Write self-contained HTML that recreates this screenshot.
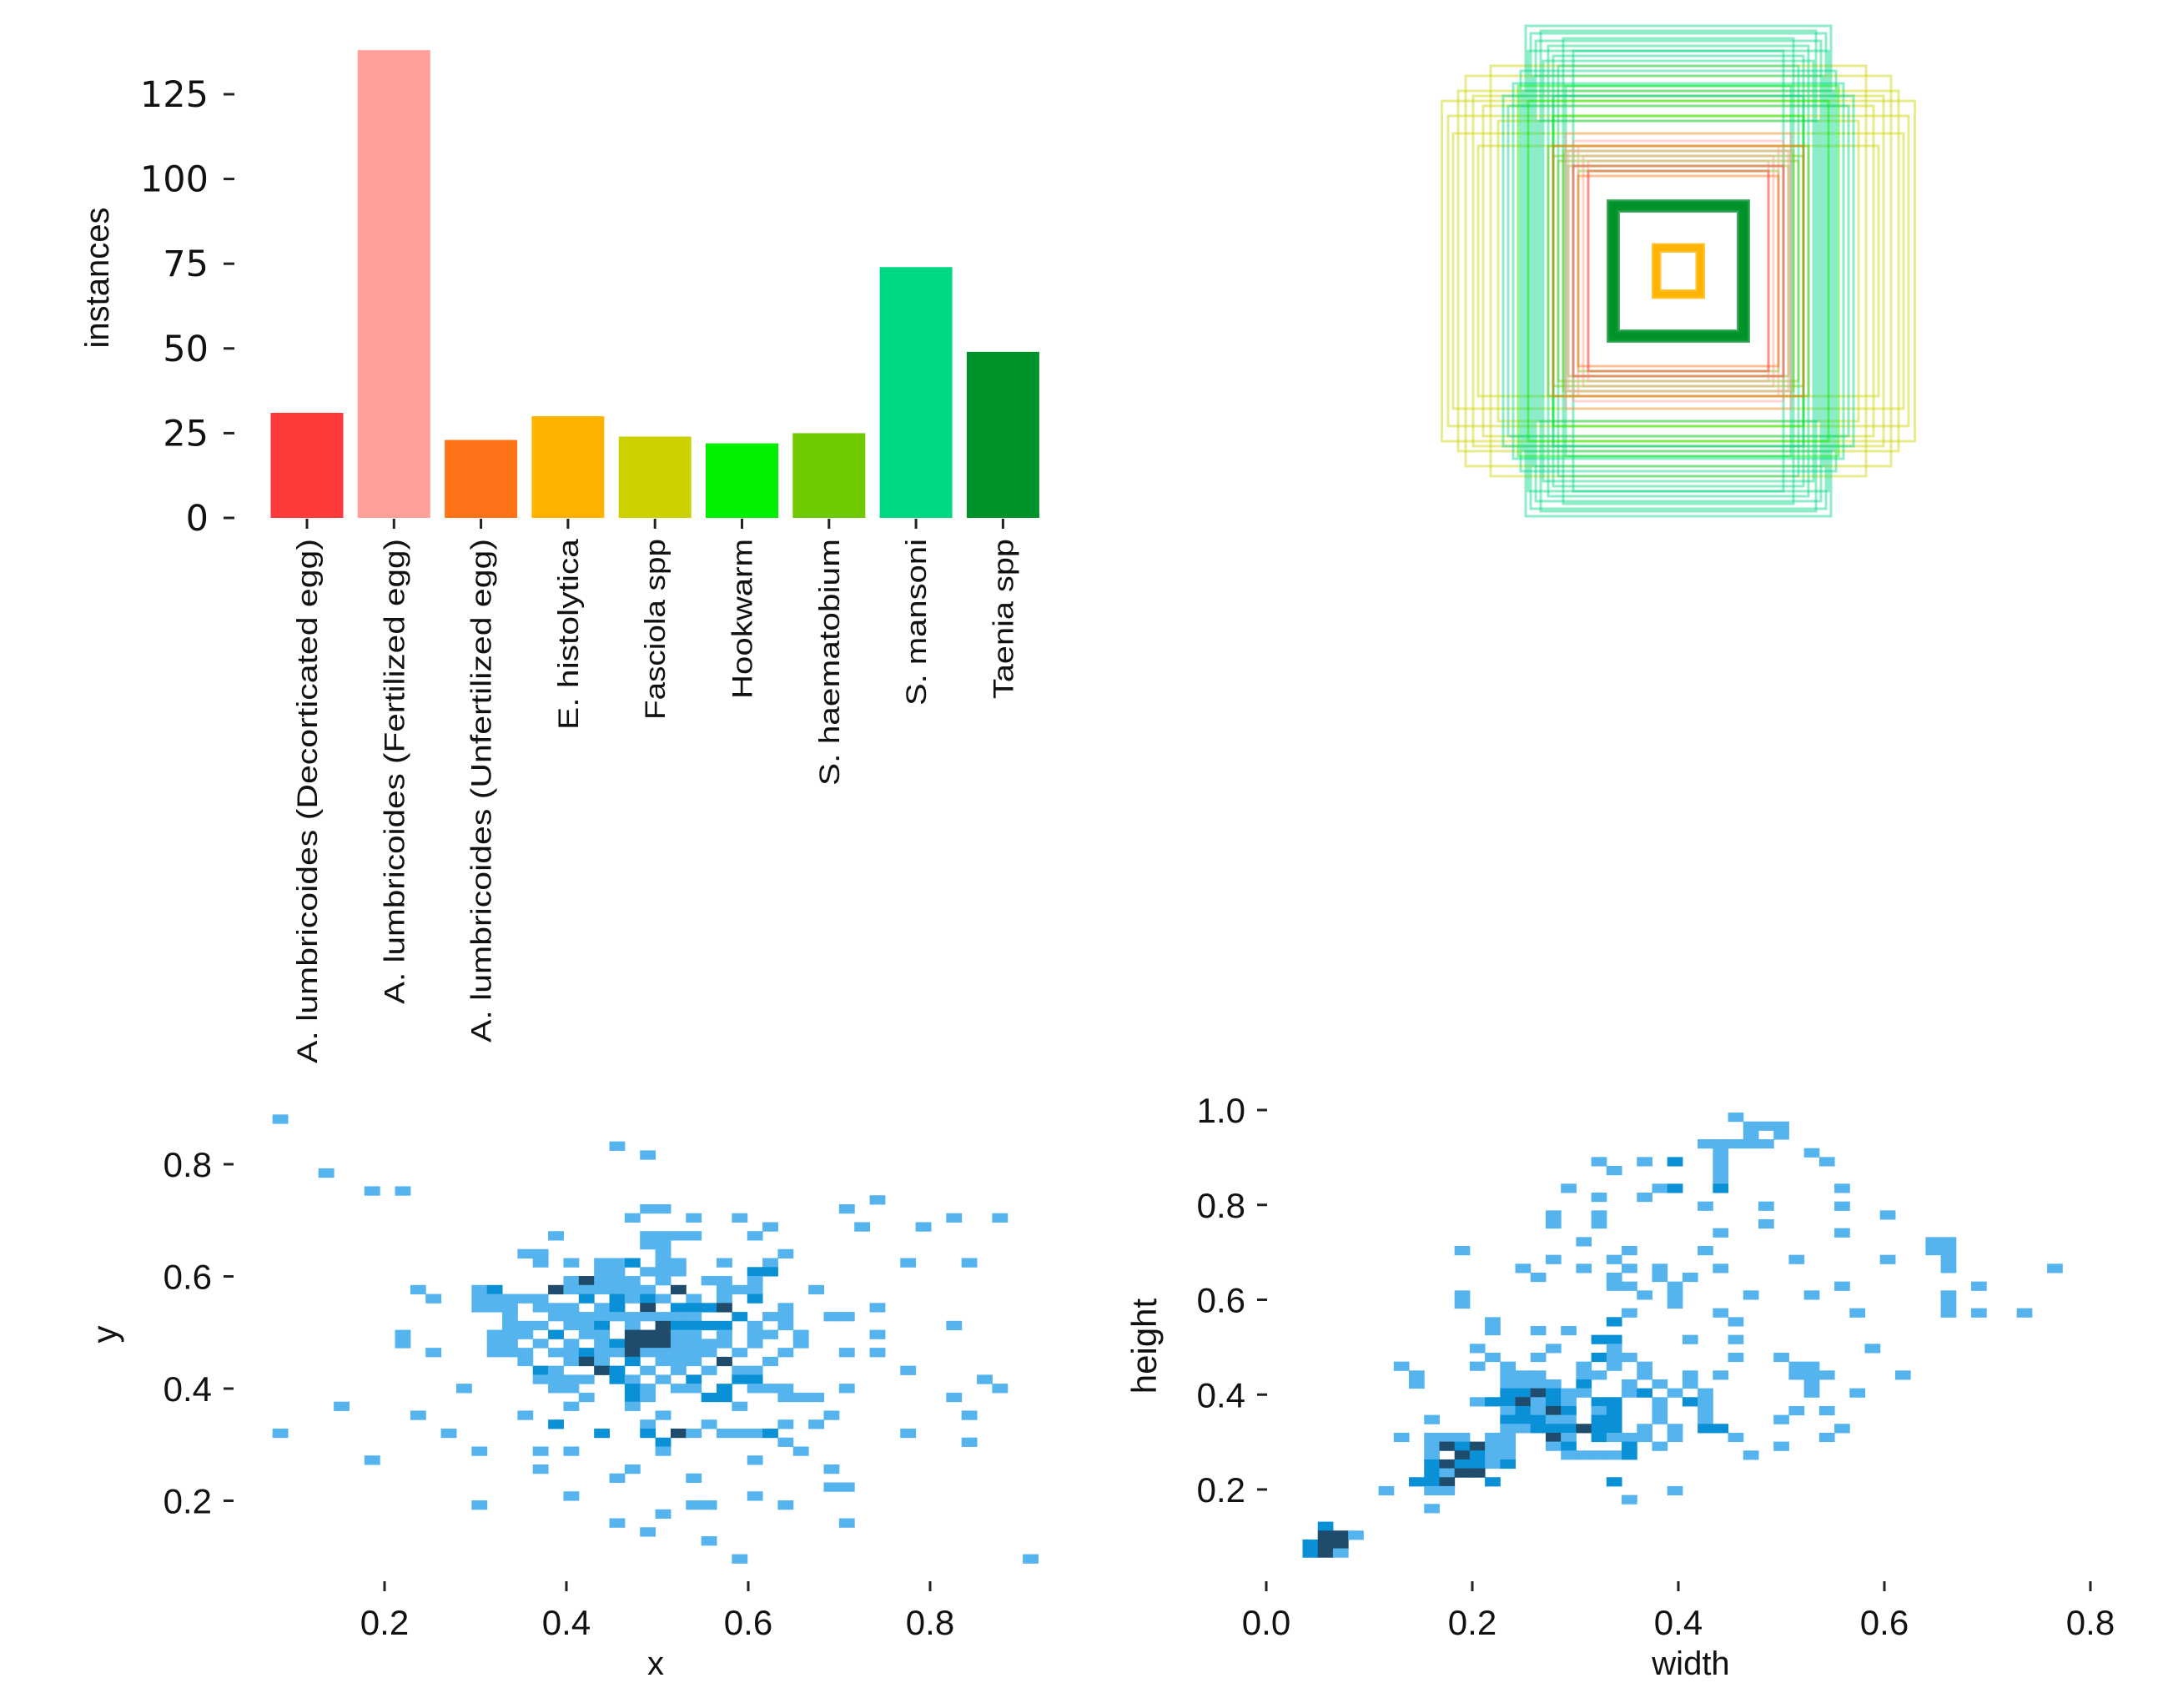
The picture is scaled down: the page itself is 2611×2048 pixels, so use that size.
<!DOCTYPE html>
<html><head><meta charset="utf-8"><style>
html,body{margin:0;padding:0;background:#fff;}
svg{display:block;}
</style></head><body>
<svg id="fig" width="2611" height="2048" viewBox="0 0 2611 2048" xmlns="http://www.w3.org/2000/svg">
<rect width="2611" height="2048" fill="#fff"/>
<g id="bars"></g>
<g id="boxes"></g>
<g id="hxy"></g>
<g id="hwh"></g>
</svg>
<script>
const categories=["A. lumbricoides (Decorticated egg)","A. lumbricoides (Fertilized egg)","A. lumbricoides (Unfertilized egg)","E. histolytica","Fasciola spp","Hookwarm","S. haematobium","S. mansoni","Taenia spp"];
const instances=[31,138,23,30,24,22,25,74,49];
const barColors=["#ff3a3a","#ffa09a","#ff7318","#ffb300","#ccd200","#00f000","#6fcb00","#00d884","#00922a"];
const labelLengths=[629,558,604,229,217,192,296,200,192];
const yTicks=[0,25,50,75,100,125];

const rectW=[0.945,0.92,0.88,0.85,0.82,0.78,0.75,0.72,0.9,0.8,
0.61,0.59,0.57,0.55,0.52,0.6,0.5,0.48,0.63,0.66,0.7,0.46,0.54,0.58,0.62,0.45,0.42,0.68,0.56,0.5,
0.64,0.6,0.5,0.5,0.48,0.46,0.44,0.52,0.4,0.45,0.42,0.4,0.44,0.38,0.36,0.5,0.4,0.42,0.36,
0.27,0.265,0.26,0.255,0.25,0.275,0.245,0.095,0.09,0.085,0.08];
const rectH=[0.68,0.62,0.72,0.78,0.7,0.66,0.82,0.6,0.55,0.5,
0.98,0.95,0.92,0.96,0.9,0.88,0.86,0.82,0.8,0.75,0.7,0.93,0.84,0.78,0.72,0.74,0.88,0.66,0.6,0.7,
0.74,0.68,0.62,0.46,0.44,0.48,0.42,0.5,0.4,0.55,0.52,0.5,0.48,0.46,0.44,0.5,0.38,0.42,0.4,
0.27,0.265,0.26,0.255,0.25,0.275,0.245,0.1,0.095,0.09,0.085];
const rectCls=[4,4,4,4,4,4,4,4,4,4,
7,7,7,7,7,7,7,7,7,7,7,7,7,7,7,7,7,7,7,7,
5,5,5,6,6,6,6,6,6,1,1,1,1,1,1,2,2,0,0,
8,8,8,8,8,8,8,3,3,3,3];

const xyRows=["0","","","22","24","","3","","6 8","39","24 25 37","23 27 30 44 47","32 38 42","18 24 25 26 27 31","24 25","16 17 25 33",
"17 19 21 22 23:2 25 26 29 32 41 45","21 22 24 25 26 31:2 32:2","19 20:3 21 22 23 25 28 29 31",
"9 13 14:2 18:3 19 20 21 22 23 24 26:3 29 30 31 35","10 13 14 15 16 17 20:2 22:2 23 24:2 25 27 29 31:2",
"13 14 15 17 18 19 21 22:2 24:3 26:2 27:2 28:2 29:3 33 39","15 18 19 20 21 22 23 24 25 26 27 30:2 32 33 36 37",
"15 16 17 19 20 21:2 23 25:3 26:2 27:2 28:2 29:2 31 33 44","8 14 15 16 18:2 20 21 23:3 24:3 25:3 26 27 29 31 32 34 39",
"8 14 15 17 19 21 22:2 23:3 24:3 25:3 26 27 28 29 31 34","10 14 15 16 18 19 20:2 21 22 23:3 24 25 26 27 28 30 33 37 39",
"16 19 20:3 21 23:2 25 26 27 29:3 32","17:2 18 21:3 22:2 24 26 28 30 31 41","17 18 19 20 22:2 23 25 27:2 30:2 31:2 46",
"12 18 19 23:2 24 26 27 29:2 31 32 33 37 47","20 23:2 24 28:2 29:2 33 34 35 44","4 19 23 30","9 16 25 36 45","18:2 24 28 33 35",
"0 11 21:2 24:2 26:3 27 29 30 31 32:2 41","25:2 33 45","13 17 19 25 34","6 31","17 23 36","22 27","36 37","19 31","13 27 28 33","25","22 37","24","28","","30 49"];
const whRows=["28","29 30 31","29 31","26 27 28 29 30","27 33","19 22 24:2 27 34","20 27","27","17 23 24:2 27:2 35","19 22","26 30 35","16 19 38","16 19 30","27 35","18 41 42",
"10 21 26 41 42","16 20 32 38 42","14 18 21 23 27 42 49","15 20 23 25","20 21 24 35 44","10 22 24 29 33 42","10 24 42","21 27 36 42 44 47",
"12 20:2 28","12 15 17","19:2 20:2 25 28","11 16 20 37","12 15 19:2 20 21 28 31","6 11 13 18 20 22 32 33",
"7 13 14 15 18 19 22 25 27 32 33 34 39","7 13 14 15 16 18:2 21 23 25 33","13:2 14:2 15:3 16:2 17 18 21 22:2 24 26 33 36",
"11 12:2 13:2 14:3 15 16:2 17 19:2 20:2 23 25:2 26","13 14:2 15 16:3 17:2 19 20:2 23 26 32 34",
"8 13:2 14:2 15:2 16 17 19:2 20:2 23 26 31","13 14 15:2 16:2 17:2 18:3 19:2 20:2 22 24 26:2 27:2 35",
"6 8 9 10 12 13 16:3 17 19:2 20 21 22 24 28 34","8 9:3 10:2 11:3 12 13 16 17:2 21:2 23 31","8 10:3 11:2 12 13 17 18 19 20 21:2 29",
"8:2 9:3 10:2 11:2 12 13:2","8:2 9 10:3 11:3","7:2 8:2 9:3 12:2 20:2","5 8 9 24","21","8","","1:2","1:3 2:3 3","0:2 1:3 2:3","0:2 1:3 2"];
const xyTicksX=[0.2,0.4,0.6,0.8], xyTicksY=[0.2,0.4,0.6,0.8];
const whTicksX=[0.0,0.2,0.4,0.6,0.8], whTicksY=[0.2,0.4,0.6,0.8,1.0];
const heatColors=["#55b4ee","#0a90d6","#1f4c6c"];

const NS="http://www.w3.org/2000/svg";
function mk(parent,tag,attrs,text){const e=document.createElementNS(NS,tag);for(const k in attrs)e.setAttribute(k,attrs[k]);if(text!==undefined)e.textContent=text;parent.appendChild(e);return e;}

const gb=document.getElementById('bars');
const by=v=>621-v*4.064, bx=i=>368+i*104.3;
yTicks.forEach(t=>{
  const l=mk(gb,'line',{x1:268,x2:281,y1:by(t),y2:by(t),stroke:'#222','stroke-width':3});
  
  
  const tx=mk(gb,'text',{x:250,y:by(t)+15,'text-anchor':'end','font-family':'DejaVu Sans, sans-serif','font-size':43,fill:'#111'},String(t));
  
  
});
const yl=mk(gb,'text',{x:0,y:0,transform:'translate(130,333) rotate(-90)','text-anchor':'middle','font-family':'Liberation Sans, sans-serif','font-size':40,fill:'#111'},'instances');


instances.forEach((v,i)=>{
  const r=mk(gb,'rect',{x:bx(i)-43.5,y:by(v),width:87,height:by(0)-by(v),fill:barColors[i]});
  
  
  const tk=mk(gb,'line',{x1:bx(i),x2:bx(i),y1:622,y2:634,stroke:'#222','stroke-width':3});
  
  
  const t=mk(gb,'text',{x:0,y:0,transform:`translate(${bx(i)+12},646) rotate(-90)`,'text-anchor':'end','font-family':'Liberation Sans, sans-serif','font-size':34,fill:'#111',textLength:labelLengths[i],lengthAdjust:'spacingAndGlyphs'},categories[i]);
  
  
});

const gx=document.getElementById('boxes');
const cx=2012, cy=325, S=600;
rectW.forEach((w,i)=>{
  const h=rectH[i], c=rectCls[i];
  const thick=c===8?7:(c===3?7:3);
  const op=c===8?0.7:(c===3?0.75:0.45);
  const r=mk(gx,'rect',{x:cx-w*S/2,y:cy-h*S/2,width:w*S,height:h*S,fill:'none',stroke:barColors[c],'stroke-width':thick,'stroke-opacity':op});
  
  
});

function heat(g,rows,x0,xs,y0,ys,px,py,ticksX,ticksY,xlabel,ylabel,tickYpos){
  const X=d=>px(d), Y=d=>py(d);
  const cw=Math.abs(X(xs)-X(0)), ch=Math.abs(Y(ys)-Y(0));
  rows.forEach((row,r)=>{
    row.split(' ').filter(s=>s).forEach(tok=>{
      const p=tok.split(':'); const c=+p[0], n=p[1]?+p[1]:1;
      const dx=x0+xs*c, dy=y0-ys*r;
      const e=mk(g,'rect',{x:X(dx)-cw/2,y:Y(dy)-ch/2,width:cw+0.5,height:ch+0.5,fill:heatColors[n-1]});
      
      
    });
  });
  ticksX.forEach(t=>{
    const l=mk(g,'line',{x1:X(t),x2:X(t),y1:1896,y2:1908,stroke:'#222','stroke-width':3});
    
    
    const tx=mk(g,'text',{x:X(t),y:1960,'text-anchor':'middle','font-family':'Liberation Sans, sans-serif','font-size':42,fill:'#111'},t.toFixed(1));
    
    
  });
  ticksY.forEach(t=>{
    const l=mk(g,'line',{x1:tickYpos,x2:tickYpos+12,y1:Y(t),y2:Y(t),stroke:'#222','stroke-width':3});
    
    
    const tx=mk(g,'text',{x:tickYpos-14,y:Y(t)+15,'text-anchor':'end','font-family':'Liberation Sans, sans-serif','font-size':42,fill:'#111'},t.toFixed(1));
    
    
  });
  const xl=mk(g,'text',{x:xlabel[1],y:2008,'text-anchor':'middle','font-family':'Liberation Sans, sans-serif','font-size':40,fill:'#111'},xlabel[0]);
  
  
  const yl2=mk(g,'text',{x:0,y:0,transform:`translate(${ylabel[1]},${ylabel[2]}) rotate(-90)`,'text-anchor':'middle','font-family':'Liberation Sans, sans-serif','font-size':42,fill:'#111'},ylabel[0]);
  
  
}
heat(document.getElementById('hxy'),xyRows,0.0852,0.01684,0.8807,0.016,
  d=>461+(d-0.2)*1090, d=>1396+(0.8-d)*672.5, xyTicksX,xyTicksY,['x',786],['y',140,1600],268);
heat(document.getElementById('hwh'),whRows,0.0426,0.01475,0.9853,0.01875,
  d=>1518+d*1235, d=>1331+(1.0-d)*568.75, whTicksX,whTicksY,['width',2027],['height',1386,1614],1507);
</script>
</body></html>
